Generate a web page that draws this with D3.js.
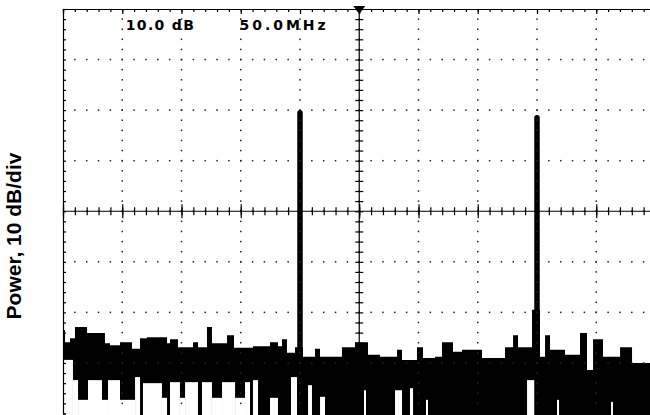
<!DOCTYPE html>
<html>
<head>
<meta charset="utf-8">
<script src="https://cdn.jsdelivr.net/npm/d3@7"></script>
<style>
  body{margin:0;background:#fff;}
  svg{display:block;}
</style>
</head>
<body>
<div id="chart"></div>
<script>
// frequency in MHz, power in dB
var noiseFreq = [0, 1.7, 5.9, 10.1, 20.3, 35.4, 39.7, 48.1, 58.2, 65.0, 70.9, 87.8, 90.3, 97.0, 109.7, 113.9, 121.5, 125.7, 138.4, 144.3,
  160.3, 174.7, 181.4, 184.8, 189.0, 195.8, 202.5, 212.7, 216.9, 235.4, 246.4, 257.4, 267.5, 281.9, 286.1, 298.7, 303.8, 313.9, 319.8,
  329.1, 336.7, 353.6, 373.0, 379.8, 384.0, 395.8, 402.5, 406.8, 411.0, 423.6, 436.3, 442.2, 447.3, 455.7, 470.1, 480.2, 500]
var noiseTop = [-63.5, -65.9, -65.1, -62.9, -64.1, -66.1, -66.5, -65.9, -67.2, -65.1, -64.9, -66.1, -65.3, -66.9, -65.9, -66.9, -62.9, -66.1, -64.5, -67.0,
  -66.7, -65.9, -66.7, -65.3, -68.0, -66.9, -68.8, -67.2, -68.8, -66.9, -65.9, -68.4, -68.8, -67.4, -69.4, -66.9, -69.0, -68.8, -65.9,
  -67.8, -67.4, -69.0, -66.9, -64.5, -66.9, -59.5, -68.8, -64.5, -67.4, -68.4, -64.1, -71.4, -65.3, -68.8, -66.9, -70.0, -70.0]

// places where the trace did not reach the bottom of the screen
var gapStart = [0, 8.4, 12.7, 21.1, 32.9, 38.0, 48.1, 60.8, 67.5, 83.5, 90.3, 98.7, 103.0, 117.3, 125.7, 134.2, 145.2, 153.6,
  160.3, 174.7, 192.4, 206.8, 216.9, 254.0, 280.2, 292.8, 306.3, 391.6, 416.9, 462.5]
var gapEnd = [8.4, 12.7, 21.1, 32.9, 38.0, 48.1, 60.8, 65.0, 83.5, 87.8, 98.7, 103.0, 113.9, 125.7, 134.2, 145.2, 153.6, 157.8,
  164.6, 181.4, 197.5, 210.1, 221.1, 255.7, 286.1, 295.4, 308.0, 398.3, 418.6, 464.1]
var gapTop = [-69.4, -73.4, -77.3, -73.4, -77.3, -73.4, -77.3, -72.8, -74.0, -76.9, -73.8, -76.9, -73.8, -73.8, -76.9, -73.8, -76.9, -73.8,
  -73.4, -76.9, -72.8, -74.4, -76.7, -75.4, -75.4, -75.0, -77.3, -73.4, -77.3, -77.7]

var peakFreq = [200, 400]
var peakTop = [-20.5, -21.5]

var width = 650
var height = 415

var x = d3.scaleLinear().domain([0, 500]).range([63, 655.5])
var y = d3.scaleLinear().domain([-80, 0]).range([413.5, 9])

var svg = d3.select("#chart").append("svg")
  .attr("width", width)
  .attr("height", height)

var noise = noiseFreq.map(function(f, i){ return [f, noiseTop[i]] })

svg.append("path")
  .datum(noise)
  .attr("fill", "#000")
  .attr("d", d3.area()
    .x(function(d){ return x(d[0]) })
    .y0(height + 2)
    .y1(function(d){ return y(d[1]) })
    .curve(d3.curveStepAfter))

svg.append("g").selectAll("rect")
  .data(gapStart)
  .enter()
  .append("rect")
  .attr("x", function(d){ return x(d) })
  .attr("y", function(d, i){ return y(gapTop[i]) })
  .attr("width", function(d, i){ return x(gapEnd[i]) - x(d) })
  .attr("height", function(d, i){ return height - y(gapTop[i]) })
  .attr("fill", "#fff")

svg.append("g").selectAll("line")
  .data(peakFreq)
  .enter()
  .append("line")
  .attr("x1", function(d){ return x(d) })
  .attr("x2", function(d){ return x(d) })
  .attr("y1", height + 5)
  .attr("y2", function(d, i){ return y(peakTop[i]) })
  .attr("stroke", "#000")
  .attr("stroke-width", 5.5)
  .attr("stroke-linecap", "round")

// graticule
var majorX = d3.range(0, 501, 50)
var minorX = d3.range(0, 501, 10)
var majorY = d3.range(-80, 1, 10)
var minorY = d3.range(-80, 1, 2)

var grid = svg.append("g").attr("fill", "#222")
majorX.slice(1).forEach(function(f){
  grid.selectAll(null)
    .data(minorY.slice(1, -1))
    .enter()
    .append("rect")
    .attr("x", x(f) - 0.75)
    .attr("y", function(d){ return y(d) - 0.75 })
    .attr("width", 1.5)
    .attr("height", 1.5)
})
majorY.slice(1, -1).forEach(function(p){
  grid.selectAll(null)
    .data(minorX.slice(1))
    .enter()
    .append("rect")
    .attr("x", function(d){ return x(d) - 0.75 })
    .attr("y", y(p) - 0.75)
    .attr("width", 1.5)
    .attr("height", 1.5)
})

// frame on top and left
svg.append("g")
  .attr("transform", "translate(0," + y(0) + ")")
  .call(d3.axisBottom(x).tickValues(minorX).tickSize(3).tickFormat(""))
  .call(function(g){ g.select(".domain").attr("stroke-width", 1.2) })
svg.append("g")
  .attr("transform", "translate(0," + y(0) + ")")
  .call(d3.axisBottom(x).tickValues(majorX).tickSize(5).tickFormat(""))
  .call(function(g){ g.select(".domain").remove() })
svg.append("g")
  .attr("transform", "translate(" + x(0) + ",0)")
  .call(d3.axisRight(y).tickValues(minorY).tickSize(3).tickFormat(""))
  .call(function(g){ g.select(".domain").attr("stroke-width", 1.2) })

// centre cross with minor ticks
svg.append("g")
  .attr("transform", "translate(" + (x(250) - 4) + ",0)")
  .call(d3.axisRight(y).tickValues(minorY).tickSize(8).tickFormat("").tickSizeOuter(0))
  .call(function(g){ g.select(".domain").remove() })
svg.append("line")
  .attr("x1", x(250)).attr("x2", x(250))
  .attr("y1", y(0)).attr("y2", height)
  .attr("stroke", "#000").attr("stroke-width", 1.2)
svg.append("g")
  .attr("transform", "translate(0," + (y(-40) - 4) + ")")
  .call(d3.axisBottom(x).tickValues(minorX).tickSize(8).tickFormat("").tickSizeOuter(0))
  .call(function(g){ g.select(".domain").remove() })
svg.append("g")
  .attr("transform", "translate(0," + (y(-40) - 7) + ")")
  .call(d3.axisBottom(x).tickValues(majorX).tickSize(14).tickFormat("").tickSizeOuter(0))
  .call(function(g){ g.select(".domain").remove() })
svg.append("line")
  .attr("x1", x(0)).attr("x2", width)
  .attr("y1", y(-40)).attr("y2", y(-40))
  .attr("stroke", "#000").attr("stroke-width", 1.2)

svg.selectAll(".tick line").attr("stroke", "#000").attr("stroke-width", 1.2)

// centre marker
svg.append("path")
  .attr("d", "M" + (x(250) - 6) + "," + (y(0) - 3) + "L" + (x(250) + 6) + "," + (y(0) - 3) + "L" + x(250) + "," + (y(0) + 5) + "Z")
  .attr("fill", "#000")

svg.append("text")
  .text("10.0 dB")
  .attr("x", x(53))
  .attr("y", 30)
  .attr("font-family", "DejaVu Sans")
  .attr("font-weight", 700)
  .attr("font-size", 14)
  .attr("textLength", 68)
  .attr("lengthAdjust", "spacing")
  .attr("fill", "#000")

svg.append("text")
  .text("50.0MHz")
  .attr("x", x(149))
  .attr("y", 30)
  .attr("font-family", "DejaVu Sans")
  .attr("font-weight", 700)
  .attr("font-size", 14)
  .attr("textLength", 86)
  .attr("lengthAdjust", "spacing")
  .attr("fill", "#000")

svg.append("text")
  .text("Power, 10 dB/div")
  .attr("transform", "translate(21," + 236 + ") rotate(-90)")
  .attr("text-anchor", "middle")
  .attr("font-family", "Liberation Sans, Arial, sans-serif")
  .attr("font-weight", 700)
  .attr("font-size", 21)
  .attr("fill", "#000")
</script>
</body>
</html>
